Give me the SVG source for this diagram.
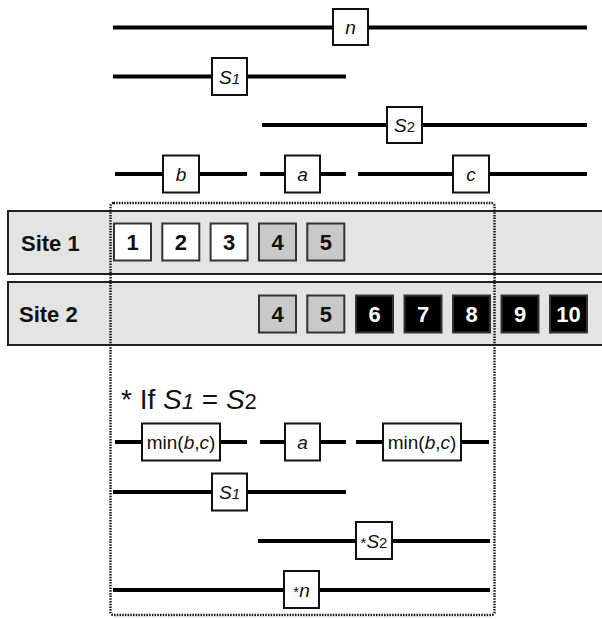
<svg xmlns="http://www.w3.org/2000/svg" width="602" height="619" viewBox="0 0 602 619">
  <style>
    .wire { stroke: #000; stroke-width: 4; fill: none; }
    .lbox { fill: #fff; stroke: #111; stroke-width: 2; }
    .lbl { font-family: "Liberation Sans", Arial, sans-serif; font-size: 19px; fill: #111; text-anchor: middle; }
    .it { font-style: italic; }
    .sub { font-size: 15px; }
    .band { fill: #e4e4e4; stroke: #222; stroke-width: 2; }
    .site { font-family: "Liberation Sans", Arial, sans-serif; font-size: 22px; font-weight: bold; fill: #111; }
    .cell { stroke: #333; stroke-width: 2; }
    .w { fill: #fff; }
    .g { fill: #c9c9c9; }
    .k { fill: #000; }
    .num { font-family: "Liberation Sans", Arial, sans-serif; font-size: 22px; font-weight: bold; text-anchor: middle; fill: #111; }
    .num.inv { fill: #fff; }
    .frame { fill: none; stroke: #111; stroke-width: 2.4; stroke-dasharray: 1.5 1.2; }
    .note { font-family: "Liberation Sans", Arial, sans-serif; font-size: 28px; fill: #111; }
  </style>

  <!-- site bands -->
  <g id="site1">
    <rect class="band" x="8" y="211" width="600" height="63"/>
    <text class="site" x="21" y="251">Site 1</text>
  </g>
  <g id="site2">
    <rect class="band" x="8" y="282" width="600" height="63"/>
    <text class="site" x="19" y="322">Site 2</text>
  </g>

  <!-- dotted frame around the shared region -->
  <rect id="frame" class="frame" x="110.5" y="203" width="384" height="412" rx="3"/>

  <!-- horizontal segments -->
  <g id="connectors">
    <line class="wire" x1="113" y1="27.5" x2="587" y2="27.5"/>
    <line class="wire" x1="113" y1="76.5" x2="346" y2="76.5"/>
    <line class="wire" x1="262" y1="125" x2="587" y2="125"/>
    <line class="wire" x1="115" y1="174" x2="247" y2="174"/>
    <line class="wire" x1="260" y1="174" x2="346" y2="174"/>
    <line class="wire" x1="358" y1="174" x2="587" y2="174"/>
    <line class="wire" x1="115" y1="442" x2="247" y2="442"/>
    <line class="wire" x1="260" y1="442" x2="346" y2="442"/>
    <line class="wire" x1="356" y1="442" x2="489" y2="442"/>
    <line class="wire" x1="113" y1="492" x2="346" y2="492"/>
    <line class="wire" x1="258" y1="541" x2="490" y2="541"/>
    <line class="wire" x1="113" y1="590" x2="490" y2="590"/>
  </g>

  <!-- upper labels -->
  <g id="n">
    <rect class="lbox" x="333" y="9" width="35" height="36"/>
    <text class="lbl it" x="350.5" y="33.5">n</text>
  </g>
  <g id="s1">
    <rect class="lbox" x="212" y="58" width="35" height="37"/>
    <text class="lbl it" x="229.5" y="83.5"><tspan>S</tspan><tspan class="sub">1</tspan></text>
  </g>
  <g id="s2">
    <rect class="lbox" x="387" y="107" width="35" height="36"/>
    <text class="lbl" x="404.5" y="132"><tspan class="it">S</tspan><tspan class="sub">2</tspan></text>
  </g>
  <g id="b">
    <rect class="lbox" x="163" y="155.5" width="36" height="37"/>
    <text class="lbl it" x="181" y="181">b</text>
  </g>
  <g id="a">
    <rect class="lbox" x="285" y="155.5" width="35" height="37"/>
    <text class="lbl it" x="302.5" y="181">a</text>
  </g>
  <g id="c">
    <rect class="lbox" x="453" y="155.5" width="36" height="37"/>
    <text class="lbl it" x="471" y="181">c</text>
  </g>

  <!-- site 1 cells -->
  <g id="s1-cell1"><rect class="cell w" x="114" y="223.5" width="37" height="37"/><text class="num" x="132.5" y="250">1</text></g>
  <g id="s1-cell2"><rect class="cell w" x="162.3" y="223.5" width="37" height="37"/><text class="num" x="180.8" y="250">2</text></g>
  <g id="s1-cell3"><rect class="cell w" x="210.6" y="223.5" width="37" height="37"/><text class="num" x="229.1" y="250">3</text></g>
  <g id="s1-cell4"><rect class="cell g" x="259" y="223.5" width="37" height="37"/><text class="num" x="277.5" y="250">4</text></g>
  <g id="s1-cell5"><rect class="cell g" x="307.3" y="223.5" width="37" height="37"/><text class="num" x="325.8" y="250">5</text></g>

  <!-- site 2 cells -->
  <g id="s2-cell4"><rect class="cell g" x="259" y="295.5" width="37" height="37"/><text class="num" x="277.5" y="322">4</text></g>
  <g id="s2-cell5"><rect class="cell g" x="307.3" y="295.5" width="37" height="37"/><text class="num" x="325.8" y="322">5</text></g>
  <g id="s2-cell6"><rect class="cell k" x="356" y="295.5" width="37" height="37"/><text class="num inv" x="374.5" y="322">6</text></g>
  <g id="s2-cell7"><rect class="cell k" x="404.5" y="295.5" width="37" height="37"/><text class="num inv" x="423" y="322">7</text></g>
  <g id="s2-cell8"><rect class="cell k" x="453" y="295.5" width="37" height="37"/><text class="num inv" x="471.5" y="322">8</text></g>
  <g id="s2-cell9"><rect class="cell k" x="501.5" y="295.5" width="37" height="37"/><text class="num inv" x="520" y="322">9</text></g>
  <g id="s2-cell10"><rect class="cell k" x="550" y="295.5" width="37" height="37"/><text class="num inv" x="568.5" y="322">10</text></g>

  <!-- condition note -->
  <text id="note" class="note" x="121" y="409">* If <tspan font-style="italic">S</tspan><tspan font-style="italic" font-size="22">1</tspan> = <tspan font-style="italic">S</tspan><tspan font-size="22">2</tspan></text>

  <!-- lower labels -->
  <g id="minbc-left">
    <rect class="lbox" x="142" y="423.5" width="78" height="37"/>
    <text class="lbl" x="181" y="449">min(<tspan class="it">b</tspan>,<tspan class="it">c</tspan>)</text>
  </g>
  <g id="a2">
    <rect class="lbox" x="285" y="423.5" width="35" height="37"/>
    <text class="lbl it" x="302.5" y="449">a</text>
  </g>
  <g id="minbc-right">
    <rect class="lbox" x="383" y="423.5" width="78" height="37"/>
    <text class="lbl" x="422" y="449">min(<tspan class="it">b</tspan>,<tspan class="it">c</tspan>)</text>
  </g>
  <g id="s1-low">
    <rect class="lbox" x="212" y="473.5" width="35" height="37"/>
    <text class="lbl it" x="229.5" y="499"><tspan>S</tspan><tspan class="sub">1</tspan></text>
  </g>
  <g id="s2-star">
    <rect class="lbox" x="356" y="522" width="36" height="37"/>
    <text class="lbl" x="374" y="547.5"><tspan class="sub">*</tspan><tspan class="it">S</tspan><tspan class="sub">2</tspan></text>
  </g>
  <g id="n-star">
    <rect class="lbox" x="284" y="571" width="35" height="37"/>
    <text class="lbl" x="301.5" y="596.5"><tspan class="sub">*</tspan><tspan class="it">n</tspan></text>
  </g>
</svg>
